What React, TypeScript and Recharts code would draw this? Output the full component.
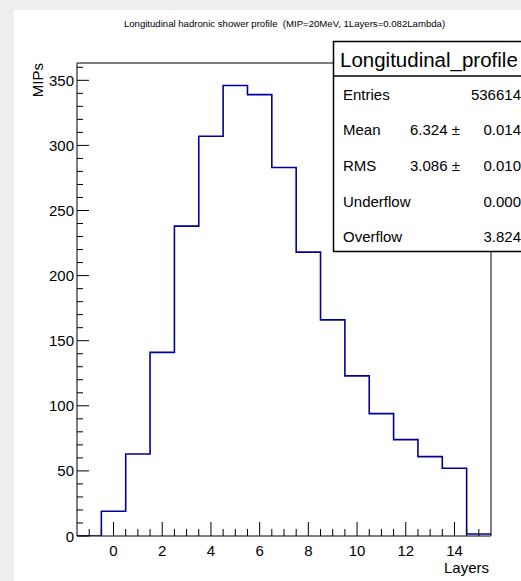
import React from 'react';
import { ComposedChart, Line, XAxis, YAxis, ReferenceArea } from 'recharts';

const binCenters = [-1, 0, 1, 2, 3, 4, 5, 6, 7, 8, 9, 10, 11, 12, 13, 14, 15];
const binValues = [0, 19, 63, 141, 238, 307, 346, 339, 283, 218, 166, 123, 94, 74, 61, 52, 1.5];
const xTicks = [-1, -0.5, 0, 0.5, 1, 1.5, 2, 2.5, 3, 3.5, 4, 4.5, 5, 5.5, 6, 6.5, 7, 7.5, 8, 8.5, 9, 9.5, 10, 10.5, 11, 11.5, 12, 12.5, 13, 13.5, 14, 14.5, 15];
const xLabelTicks = [0, 2, 4, 6, 8, 10, 12, 14];
const yTicks = [0, 10, 20, 30, 40, 50, 60, 70, 80, 90, 100, 110, 120, 130, 140, 150, 160, 170, 180, 190, 200, 210, 220, 230, 240, 250, 260, 270, 280, 290, 300, 310, 320, 330, 340, 350, 360];
const yLabelTicks = [0, 50, 100, 150, 200, 250, 300, 350];
const xDomain = [-1.5, 15.5];
const yMax = 363.3;

const titleText = 'Longitudinal hadronic shower profile  (MIP=20MeV, 1Layers=0.082Lambda)';
const statsTitle = 'Longitudinal_profile';
const statNames = ['Entries', 'Mean', 'RMS', 'Underflow', 'Overflow'];
const statMain = ['536614', '0.014', '0.010', '0.000', '3.824'];
const statPrefix = ['', '6.324 \u00b1', '3.086 \u00b1', '', ''];

const FONT = '"Liberation Sans", Arial, Helvetica, sans-serif';

const data = [
  ...binCenters.map((c, i) => ({ x: c - 0.5, v: binValues[i] })),
  { x: binCenters[binCenters.length - 1] + 0.5, v: binValues[binValues.length - 1] },
];

const XTick = (props: any) => {
  const { x, y, payload } = props;
  const v = payload.value;
  const major = xLabelTicks.includes(v);
  return (
    <g>
      <line x1={x} x2={x} y1={y} y2={y - (major ? 14 : 7)} stroke="#000" strokeWidth={1} />
      {major && (
        <text x={x} y={y + 20} textAnchor="middle" fontSize={15} fill="#000" fontFamily={FONT}>
          {v}
        </text>
      )}
    </g>
  );
};

const YTick = (props: any) => {
  const { x, y, payload } = props;
  const v = payload.value;
  const major = yLabelTicks.includes(v);
  const left = x + 3;
  return (
    <g>
      <line x1={left} x2={left + (major ? 12 : 6)} y1={y} y2={y} stroke="#000" strokeWidth={1} />
      {major && (
        <text x={left - 3} y={y + 5.5} textAnchor="end" fontSize={15} fill="#000" fontFamily={FONT}>
          {v}
        </text>
      )}
    </g>
  );
};

export default function App() {
  return (
    <div style={{ position: 'absolute', left: 0, top: 0, width: 521, height: 581, background: '#eeeeee', overflow: 'hidden' }}>
      <div style={{ position: 'absolute', left: 14, top: 10, width: 507, height: 571, background: '#ffffff' }} />
      <div style={{ position: 'absolute', left: 0, top: 0 }}>
        <ComposedChart width={521} height={581} data={data} margin={{ top: 63, right: 30, bottom: 0, left: 17 }}>
          <XAxis
            type="number"
            dataKey="x"
            domain={xDomain}
            allowDataOverflow
            ticks={xTicks}
            interval={0}
            tickSize={0}
            tickMargin={0}
            axisLine={false}
            tickLine={false}
            tick={<XTick />}
            height={45}
          />
          <YAxis
            type="number"
            domain={[0, yMax]}
            allowDataOverflow
            ticks={yTicks}
            interval={0}
            tickSize={0}
            tickMargin={3}
            axisLine={false}
            tickLine={false}
            tick={<YTick />}
            width={60}
          />
          <Line
            type="stepAfter"
            dataKey="v"
            stroke="#00009c"
            strokeWidth={1.6}
            dot={false}
            activeDot={false}
            isAnimationActive={false}
          />
          <ReferenceArea
            x1={xDomain[0]}
            x2={xDomain[1]}
            y1={0}
            y2={yMax}
            fill="none"
            fillOpacity={0}
            stroke="#000"
            strokeWidth={1}
            ifOverflow="visible"
          />
        </ComposedChart>
      </div>
      <svg width={521} height={581} style={{ position: 'absolute', left: 0, top: 0, pointerEvents: 'none' }}>
        <text x={284.5} y={27} textAnchor="middle" fontSize={9.6} fill="#000" fontFamily={FONT} style={{ whiteSpace: 'pre' }}>
          {titleText}
        </text>
        <text
          transform="translate(43,63) rotate(-90)"
          textAnchor="end"
          fontSize={15}
          fill="#000"
          fontFamily={FONT}
        >
          MIPs
        </text>
        <text x={489} y={573} textAnchor="end" fontSize={15} fill="#000" fontFamily={FONT}>
          Layers
        </text>
        <rect x={333.5} y={41.5} width={200} height={210} fill="#fff" stroke="#000" strokeWidth={1.5} />
        <line x1={333.5} x2={533} y1={76} y2={76} stroke="#000" strokeWidth={1.5} />
        <text x={340} y={66.5} fontSize={20.5} fill="#000" fontFamily={FONT}>
          {statsTitle}
        </text>
        {statNames.map((n, i) => (
          <g key={n}>
            <text x={343} y={99.5 + i * 35.7} fontSize={15} fill="#000" fontFamily={FONT}>
              {n}
            </text>
            {statPrefix[i] && (
              <text x={410} y={99.5 + i * 35.7} fontSize={15} fill="#000" fontFamily={FONT} style={{ whiteSpace: 'pre' }}>
                {statPrefix[i]}
              </text>
            )}
            <text x={521} y={99.5 + i * 35.7} fontSize={15} textAnchor="end" fill="#000" fontFamily={FONT}>
              {statMain[i]}
            </text>
          </g>
        ))}
      </svg>
    </div>
  );
}
